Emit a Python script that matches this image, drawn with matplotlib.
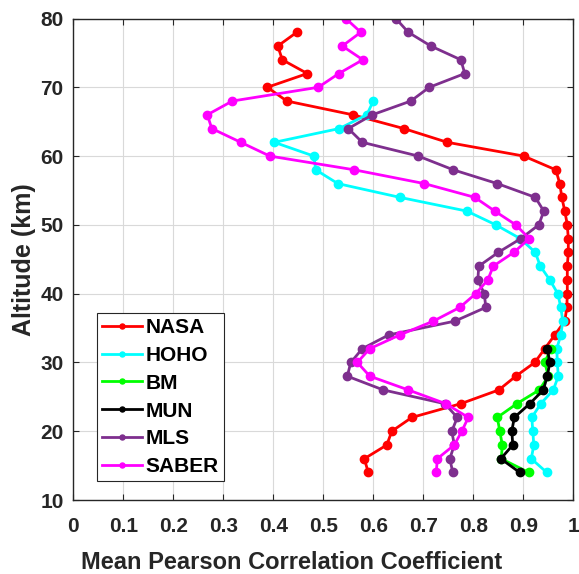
import matplotlib
matplotlib.use("Agg")
import matplotlib.pyplot as plt
import numpy as np

plt.rcParams['font.family'] = ['Liberation Sans', 'DejaVu Sans']
plt.rcParams['font.weight'] = 'bold'

# Altitudes (km)
alt_nasa = list(range(14, 79, 2))
nasa = [0.59, 0.582, 0.627, 0.637, 0.677, 0.775, 0.851, 0.885, 0.923, 0.943, 0.963,
        0.983, 0.987, 0.988, 0.988, 0.988, 0.99, 0.99, 0.988, 0.983, 0.977, 0.973, 0.965,
        0.901, 0.748, 0.661, 0.559, 0.427, 0.388, 0.468, 0.418, 0.409, 0.447]

alt_hoho = list(range(14, 69, 2))
hoho = [0.947, 0.916, 0.921, 0.919, 0.917, 0.935, 0.96, 0.97, 0.968, 0.967, 0.975,
        0.979, 0.975, 0.969, 0.953, 0.934, 0.924, 0.894, 0.845, 0.787, 0.653, 0.529,
        0.485, 0.481, 0.402, 0.532, 0.587, 0.6]

alt_bm = list(range(14, 33, 2))
bm = [0.911, 0.856, 0.858, 0.853, 0.848, 0.887, 0.932, 0.95, 0.943, 0.955]

alt_mun = list(range(14, 33, 2))
mun = [0.893, 0.855, 0.879, 0.877, 0.882, 0.913, 0.94, 0.948, 0.953, 0.948]

alt_mls = list(range(14, 81, 2))
mls = [0.759, 0.753, 0.762, 0.757, 0.768, 0.743, 0.62, 0.548, 0.555, 0.578, 0.631,
       0.763, 0.825, 0.822, 0.809, 0.811, 0.85, 0.895, 0.931, 0.941, 0.924, 0.848,
       0.76, 0.69, 0.578, 0.55, 0.598, 0.675, 0.712, 0.783, 0.775, 0.715, 0.67, 0.645]

alt_saber = list(range(14, 81, 2))
saber = [0.726, 0.728, 0.762, 0.777, 0.79, 0.745, 0.67, 0.593, 0.568, 0.593, 0.653,
         0.72, 0.773, 0.805, 0.829, 0.84, 0.881, 0.912, 0.885, 0.843, 0.803, 0.702,
         0.562, 0.393, 0.335, 0.277, 0.268, 0.318, 0.49, 0.531, 0.579, 0.538, 0.575, 0.545]

series = [
    ("NASA", nasa, alt_nasa, (1, 0, 0)),
    ("HOHO", hoho, alt_hoho, (0, 1, 1)),
    ("BM", bm, alt_bm, (0, 1, 0)),
    ("MUN", mun, alt_mun, (0, 0, 0)),
    ("MLS", mls, alt_mls, (0.494, 0.184, 0.556)),
    ("SABER", saber, alt_saber, (1, 0, 1)),
]

dark = (0.15, 0.15, 0.15)

fig = plt.figure(figsize=(5.79, 5.74), dpi=100)
ax = fig.add_axes([73.3 / 579, 1 - 500 / 574, 500 / 579, (500 - 18.5) / 574])

for name, x, y, c in series:
    ax.plot(x, y, '-o', color=c, lw=2.0, ms=6, label=name)

ax.set_xlim(0, 1)
ax.set_ylim(10, 80)
ax.set_xticks(np.arange(0, 1.01, 0.1))
ax.set_xticklabels(['0', '0.1', '0.2', '0.3', '0.4', '0.5', '0.6', '0.7', '0.8', '0.9', '1'])
ax.set_yticks(range(10, 81, 10))
ax.grid(True, color=(0.85, 0.85, 0.85), lw=0.8)
ax.set_axisbelow(True)
ax.tick_params(direction='in', top=True, right=True, length=4, width=0.8,
               labelsize=15, colors=dark)
ax.tick_params(axis='x', pad=12)
ax.tick_params(axis='y', pad=7)
for s in ax.spines.values():
    s.set_color(dark)
    s.set_linewidth(1.0)
ax.set_xlabel('Mean Pearson Correlation Coefficient', fontsize=17, fontweight='bold',
              color=dark)
ax.xaxis.set_label_coords(0.437, -0.105)
ax.set_ylabel('Altitude (km)', fontsize=18, fontweight='bold',
              color=dark, labelpad=3)

leg = ax.legend(loc='lower left', bbox_to_anchor=(0.047, 0.039), fontsize=15,
                markerscale=0.6, handlelength=1.9, handletextpad=0.2,
                labelspacing=0.42, borderpad=0.25, borderaxespad=0.0,
                frameon=True, fancybox=False,
                edgecolor=dark, framealpha=1)
leg.get_frame().set_linewidth(0.8)

fig.savefig('out.png', dpi=100)
